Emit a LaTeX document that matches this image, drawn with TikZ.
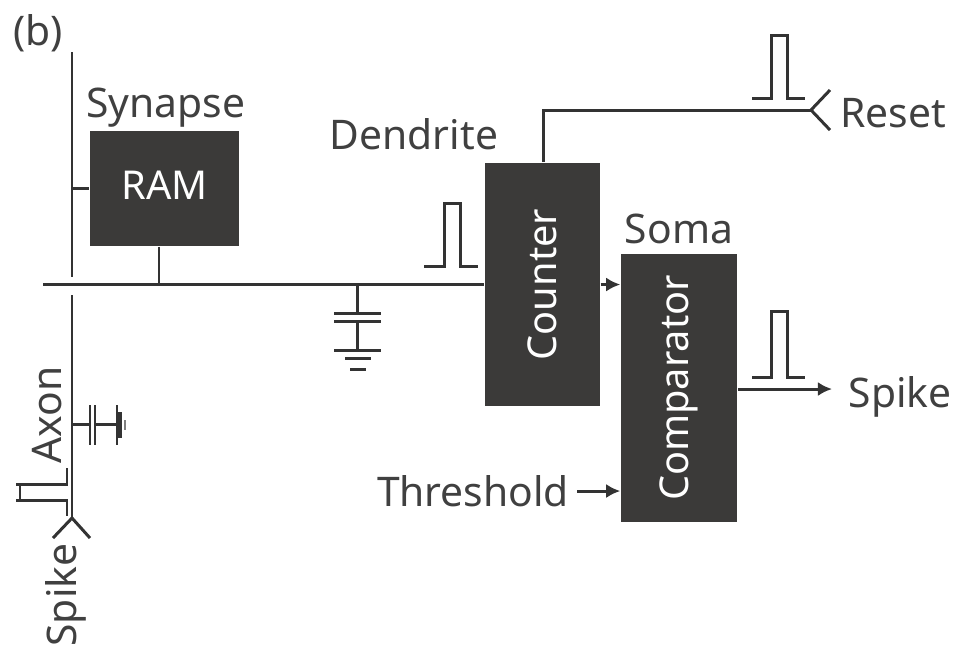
\documentclass[tikz,border=0pt]{standalone}
\usepackage{fontspec}
\setmainfont{Noto Sans}
\usetikzlibrary{arrows.meta}
\definecolor{boxgray}{HTML}{3B3A39}
\definecolor{wiregray}{HTML}{333333}
\definecolor{labelgray}{HTML}{404040}
\tikzset{
  blockbox/.style={fill=boxgray,text=white,inner sep=0pt,font=\fontsize{11.3}{13}\selectfont},
  wire/.style={draw=wiregray,line width=0.85pt},
  arrowwire/.style={wire,-{Latex[length=4pt,width=4pt]}},
  namelabel/.style={text=labelgray,inner sep=0pt,font=\fontsize{11.6}{13}\selectfont},
}
\begin{document}
\begin{tikzpicture}[x=0.01cm,y=-0.01cm]
        \useasboundingbox (0,0) rectangle (955,647);
        % blocks
        \node[blockbox,minimum width=1.49cm,minimum height=1.15cm] (ram) at (164.5,188.5) {\raisebox{2pt}{RAM}};
        \node[blockbox,minimum width=1.15cm,minimum height=2.43cm] (counter) at (542.5,284.5) {\rotatebox{90}{Counter}};
        \node[blockbox,minimum width=1.16cm,minimum height=2.68cm] (comparator) at (679,388) {\rotatebox{90}{Comparator}};
        % labels
        \node[namelabel] (panel) at (38,33) {(b)};
        \node[namelabel] (synapse) at (166,108) {Synapse};
        \node[namelabel] (dendrite) at (414,134) {Dendrite};
        \node[namelabel] (soma) at (679,229) {Soma};
        \node[namelabel] (reset) at (893,113) {Reset};
        \node[namelabel] (spikeout) at (900,397) {Spike};
        \node[namelabel] (threshold) at (473,491) {Threshold};
        \node[namelabel,rotate=90] (axon) at (47,415) {Axon};
        \node[namelabel,rotate=90] (spikein) at (66,595) {Spike};
        % axon and dendrite wires
        \coordinate (axontop) at (72,52);
        \coordinate (axongap) at (72,277);
        \coordinate (axonlow) at (72,295);
        \coordinate (forkin) at (72,518);
        \coordinate (busleft) at (43,284.5);
        \coordinate (ramtap) at (159,284.5);
        \coordinate (captap) at (357,284.5);
        \coordinate (axoncap) at (72,424);
        \coordinate (forkreset) at (811,110);
        \coordinate (resettap) at (543,110);
        \coordinate (spikeend) at (832,389);
        \draw[wire] (axontop) -- (axongap);
        \draw[wire] (axonlow) -- (forkin);
        \draw[wire] (busleft) -- (counter.west);
        \draw[wire] (axontop |- ram.west) -- (ram.west);
        \draw[wire] (ramtap |- ram.south) -- (ramtap);
        \draw[wire] (counter.north -| resettap) -- (resettap) -- (forkreset);
        \draw[arrowwire] (counter.east) -- (comparator.west |- counter.east);
        \draw[arrowwire] (comparator.east |- spikeend) -- (spikeend);
        \draw[arrowwire] (threshold.east -| 577,0) -- (comparator.west |- threshold.east);
        % forks
        \draw[wire] (830,90) -- (forkreset) -- (830,130);
        \draw[wire] (53,538) -- (forkin) -- (90,538);
        % pulses
        \draw[wire] (752,98) -- (771,98) -- (771,35) -- (787,35) -- (787,98) -- (805,98);
        \draw[wire] (424,266) -- (444,266) -- (444,203) -- (460,203) -- (460,266) -- (478,266);
        \draw[wire] (752,377) -- (771,377) -- (771,311) -- (787,311) -- (787,377) -- (805,377);
        \draw[wire] (67,468) -- (67,484) -- (20,484) -- (20,500) -- (67,500) -- (67,516);
        \draw[wire] (16,484) -- (20,484);
        \draw[wire] (16,500) -- (20,500);
        % capacitors
        \draw[wire] (captap) -- (357,313);
        \draw[wire] (334,313) -- (381,313);
        \draw[wire] (334,321) -- (381,321);
        \draw[wire] (357,321) -- (357,350);
        \draw[wire] (334,350) -- (381,350);
        \draw[wire] (345,358) -- (371,358);
        \draw[wire] (350,369) -- (366,369);
        \draw[wire] (axoncap) -- (90,424);
        \draw[wire] (90,405) -- (90,445);
        \draw[wire] (95,405) -- (95,445);
        \draw[wire] (95,424) -- (117,424);
        \draw[wire] (117,405) -- (117,445);
        \draw[wire,line width=1.2pt] (120,412) -- (120,438);
        \draw[wire,gray] (125,420) -- (125,430);
\end{tikzpicture}
\end{document}
